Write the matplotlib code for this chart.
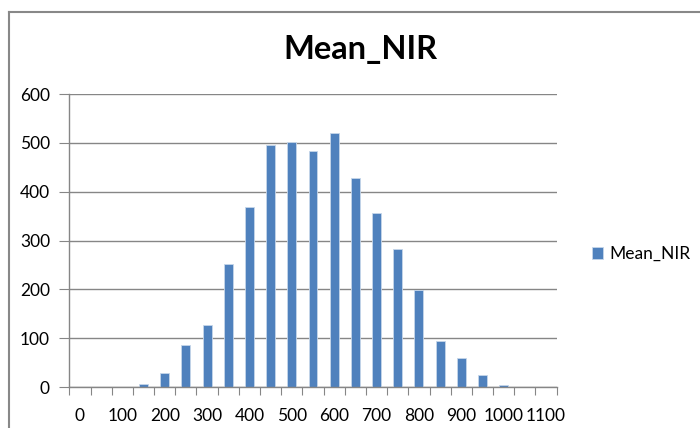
import numpy as np
import matplotlib.pyplot as plt

# dados (contagem por faixa de 50)
categorias = list(range(0, 1150, 50))
valores = [0, 0, 0, 6, 29, 86, 128, 253, 368, 496, 502, 483, 520, 428,
           357, 282, 199, 95, 60, 25, 4, 0, 0]
rotulos_x = [str(c) for c in categorias[::2]]
ticks_y = [0, 100, 200, 300, 400, 500, 600]

cor_barra = "#4F81BD"
cor_grade = "#868686"

plt.rcParams['font.family'] = ['Lato', 'DejaVu Sans']

fig = plt.figure(figsize=(7, 4.28), dpi=100)
ax = fig.add_axes([69.4 / 700, 1 - 387.1 / 428, (556.6 - 69.4) / 700, (387.1 - 94.1) / 428])

x = np.arange(len(categorias))
ax.bar(x, valores, width=0.42, color=cor_barra, edgecolor="#C6D6EA", linewidth=0.6,
       label="Mean_NIR", zorder=3)

ax.set_xlim(-0.5, len(categorias) - 0.5)
ax.set_ylim(0, 600)
ax.set_yticks(ticks_y)
ax.set_yticklabels([str(v) for v in ticks_y], fontsize=12.5)
ax.yaxis.grid(True, color=cor_grade, linewidth=1, zorder=0)
ax.tick_params(axis='y', length=7, color=cor_grade, pad=7)

# marcas nas divisões das categorias, rótulos a cada duas categorias
ax.set_xticks(np.arange(-0.5, len(categorias), 1))
ax.set_xticklabels([])
ax.tick_params(axis='x', which='major', length=6, color=cor_grade)
ax.set_xticks(x[::2], minor=True)
ax.set_xticklabels(rotulos_x, minor=True, fontsize=12.5)
ax.tick_params(axis='x', which='minor', length=0, pad=15)

for lado in ['top', 'right']:
    ax.spines[lado].set_visible(False)
for lado in ['left', 'bottom']:
    ax.spines[lado].set_color(cor_grade)
    ax.spines[lado].set_linewidth(1)
    ax.spines[lado].set_zorder(4)

fig.text(360 / 700, 1 - 49 / 428, "Mean_NIR", ha='center', va='center',
         fontsize=23.5, fontweight='bold')

# legenda
fig.legend(loc='center left', bbox_to_anchor=(576 / 700, 1 - 254 / 428), frameon=False,
           fontsize=12.5, handlelength=0.65, handleheight=0.65, handletextpad=0.35)

# borda do gráfico (cortada na imagem)
fig.add_artist(plt.Line2D([9 / 700, 9 / 700], [0, 1 - 12 / 428], color="#888888",
                          linewidth=1.5, transform=fig.transFigure))
fig.add_artist(plt.Line2D([9 / 700, 1], [1 - 12 / 428, 1 - 12 / 428], color="#888888",
                          linewidth=1.5, transform=fig.transFigure))

fig.savefig("out.png", dpi=100)
